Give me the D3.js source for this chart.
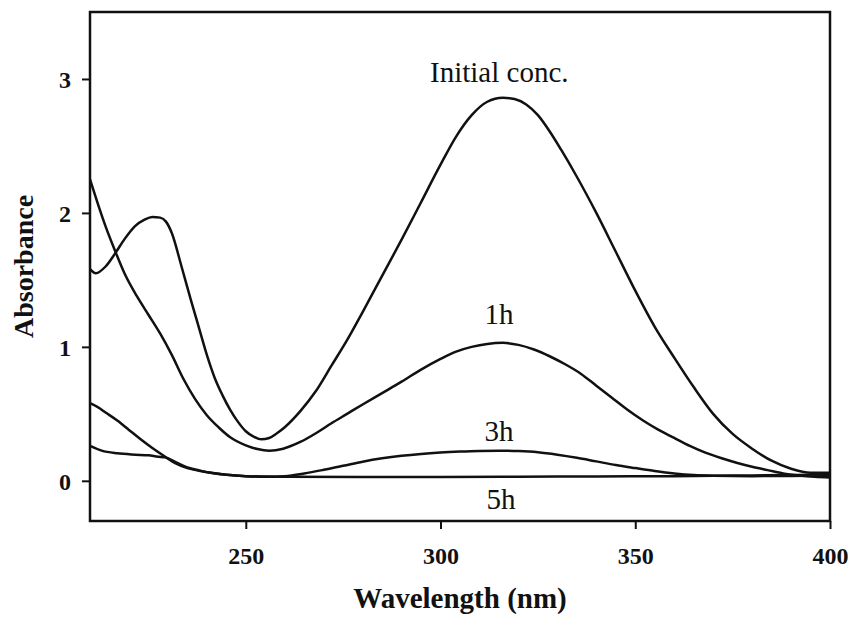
<!DOCTYPE html>
<html>
<head>
<meta charset="utf-8">
<script src="https://cdn.jsdelivr.net/npm/d3@7"></script>
<style>
  html, body { margin: 0; padding: 0; background: #fff; }
  svg { display: block; }
  .tick text { font-family: "Liberation Serif", "Times New Roman", serif; font-weight: bold; font-size: 24px; fill: #111; }
  .tick line { stroke: #111; stroke-width: 2; }
</style>
</head>
<body>
<script>
// Absorption spectra of the solution at successive irradiation times
const wlInitial = [210, 211.5, 214, 216.5, 219, 221.5, 224, 226, 228, 229.5, 231, 233.5, 236, 238, 240, 242, 244, 246, 248, 250, 252, 254, 256, 258, 260, 264, 268, 272, 276, 280, 285, 290, 295, 300, 304, 308, 312, 316, 319, 322, 325, 328, 331, 335, 340, 345, 350, 355, 360, 365, 370, 375, 380, 385, 390, 395, 400];
const absInitial = [1.58, 1.55, 1.60, 1.70, 1.81, 1.90, 1.95, 1.97, 1.965, 1.935, 1.85, 1.60, 1.34, 1.14, 0.94, 0.77, 0.64, 0.53, 0.44, 0.37, 0.33, 0.31, 0.32, 0.355, 0.40, 0.52, 0.67, 0.86, 1.05, 1.26, 1.53, 1.80, 2.08, 2.36, 2.57, 2.73, 2.83, 2.86, 2.85, 2.81, 2.73, 2.61, 2.47, 2.27, 2.00, 1.71, 1.42, 1.15, 0.92, 0.70, 0.50, 0.35, 0.24, 0.15, 0.09, 0.06, 0.06];

const wl1h = [210, 212, 214, 216.4, 219, 222, 225, 228, 231, 234, 237, 240, 243, 246, 250, 253, 256, 259.6, 264, 268, 272, 276, 280, 285, 290, 295, 300, 304, 308, 312, 316, 320, 324, 328, 332, 336, 340, 344, 348, 352, 356, 360, 364, 368, 372, 376, 380, 384, 388, 392, 396, 400];
const abs1h = [2.25, 2.07, 1.90, 1.72, 1.54, 1.38, 1.24, 1.10, 0.94, 0.76, 0.61, 0.49, 0.40, 0.325, 0.265, 0.237, 0.225, 0.24, 0.29, 0.355, 0.43, 0.50, 0.57, 0.655, 0.74, 0.83, 0.91, 0.965, 1.00, 1.022, 1.03, 1.015, 0.98, 0.93, 0.87, 0.80, 0.71, 0.62, 0.53, 0.45, 0.38, 0.32, 0.26, 0.21, 0.17, 0.135, 0.105, 0.08, 0.055, 0.04, 0.03, 0.025];

const wl3h = [210, 212, 214, 217, 220, 223, 226, 229.3, 232, 235, 238, 241, 245, 250, 255, 260, 265, 270, 275, 280, 285, 290, 295, 300, 305, 310, 315, 320, 325, 330, 335, 340, 345, 350, 355, 360, 365, 370, 380, 390, 400];
const abs3h = [0.58, 0.55, 0.51, 0.45, 0.38, 0.31, 0.245, 0.18, 0.13, 0.095, 0.075, 0.06, 0.045, 0.035, 0.03, 0.035, 0.055, 0.082, 0.112, 0.143, 0.168, 0.187, 0.201, 0.211, 0.218, 0.223, 0.225, 0.222, 0.213, 0.195, 0.172, 0.145, 0.118, 0.095, 0.073, 0.055, 0.043, 0.038, 0.035, 0.036, 0.04];

const wl5h = [210, 213, 217, 221.6, 225, 227.5, 229.3, 232, 235, 238, 241, 245, 250, 260, 280, 300, 320, 340, 360, 380, 400];
const abs5h = [0.26, 0.225, 0.205, 0.195, 0.19, 0.18, 0.175, 0.14, 0.10, 0.078, 0.06, 0.045, 0.035, 0.03, 0.028, 0.028, 0.03, 0.033, 0.035, 0.04, 0.045];

const xTicks = [250, 300, 350, 400];
const yTicks = [0, 1, 2, 3];

// Curve labels: text, wavelength and absorbance where each sits
const labelText = ["Initial conc.", "1h", "3h", "5h"];
const labelWl = [297.3, 315, 315, 315.5];
const labelAbs = [2.98, 1.17, 0.30, -0.21];

const width = 853, height = 622;
const margin = { left: 90, right: 23, top: 12, bottom: 101 };
const serif = '"Liberation Serif", "Times New Roman", serif';

const svg = d3.select("body").append("svg")
  .attr("width", width).attr("height", height);

const x = d3.scaleLinear().domain([210, 400]).range([margin.left, width - margin.right]);
const y = d3.scaleLinear().domain([-0.3, 3.5]).range([height - margin.bottom, margin.top]);

// axes
const xAxis = svg.append("g")
  .attr("transform", `translate(0,${height - margin.bottom})`)
  .call(d3.axisBottom(x).tickValues(xTicks).tickSize(8).tickPadding(18).tickFormat(d3.format("d")));
xAxis.select(".domain").remove();

const yAxis = svg.append("g")
  .attr("transform", `translate(${margin.left},0)`)
  .call(d3.axisLeft(y).tickValues(yTicks).tickSize(8).tickPadding(11).tickFormat(d3.format("d")));
yAxis.select(".domain").remove();
yAxis.selectAll(".tick text").attr("dy", "0.35em");

// spectra
const series = [
  [wlInitial, absInitial],
  [wl1h, abs1h],
  [wl3h, abs3h],
  [wl5h, abs5h]
];
const line = d3.line()
  .x(d => x(d[0]))
  .y(d => y(d[1]))
  .curve(d3.curveMonotoneX);

svg.append("defs").append("clipPath").attr("id", "plot")
  .append("rect")
  .attr("x", margin.left).attr("y", margin.top)
  .attr("width", width - margin.left - margin.right)
  .attr("height", height - margin.top - margin.bottom);

svg.append("g").attr("clip-path", "url(#plot)")
  .selectAll("path")
  .data(series.map(([w, a]) => w.map((v, i) => [v, a[i]])))
  .join("path")
  .attr("d", line)
  .attr("fill", "none")
  .attr("stroke", "#111")
  .attr("stroke-width", 2.5)
  .attr("stroke-linejoin", "round");

// frame
svg.append("rect")
  .attr("x", margin.left).attr("y", margin.top)
  .attr("width", width - margin.left - margin.right)
  .attr("height", height - margin.top - margin.bottom)
  .attr("fill", "none")
  .attr("stroke", "#111")
  .attr("stroke-width", 2.5);

// curve labels
svg.append("g")
  .selectAll("text")
  .data(labelText)
  .join("text")
  .attr("x", (d, i) => x(labelWl[i]))
  .attr("y", (d, i) => y(labelAbs[i]))
  .attr("text-anchor", (d, i) => i === 0 ? "start" : "middle")
  .attr("font-family", serif)
  .attr("font-size", 29)
  .attr("fill", "#111")
  .text(d => d);

// axis titles
svg.append("text")
  .attr("x", (margin.left + width - margin.right) / 2)
  .attr("y", 608)
  .attr("text-anchor", "middle")
  .attr("font-family", serif)
  .attr("font-weight", "bold")
  .attr("font-size", 29)
  .attr("fill", "#111")
  .text("Wavelength (nm)");

svg.append("text")
  .attr("transform", `translate(33,${(margin.top + height - margin.bottom) / 2}) rotate(-90)`)
  .attr("text-anchor", "middle")
  .attr("font-family", serif)
  .attr("font-weight", "bold")
  .attr("font-size", 28)
  .attr("fill", "#111")
  .text("Absorbance");
</script>
</body>
</html>
